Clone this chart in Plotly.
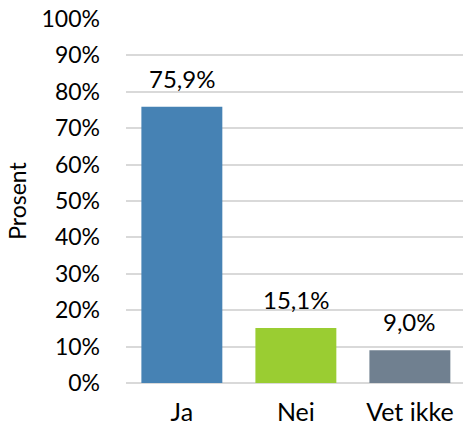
import plotly.graph_objects as go

categories = ["Ja", "Nei", "Vet ikke"]
values = [75.9, 15.1, 9.0]
colors = ["#4682B4", "#9ACD32", "#708090"]
y_ticks = [0, 10, 20, 30, 40, 50, 60, 70, 80, 90, 100]

font_family = "Lato, 'Open Sans', sans-serif"


def fmt(v):
    return f"{v:.1f}".replace(".", ",") + "%"


fig = go.Figure(
    go.Bar(
        x=categories,
        y=values,
        marker=dict(color=colors, line=dict(width=0)),
        width=0.71,
        hoverinfo="skip",
    )
)

for c, v in zip(categories, values):
    fig.add_annotation(
        x=c,
        y=v,
        text=fmt(v),
        showarrow=False,
        yanchor="bottom",
        yshift=12,
        font=dict(size=24, color="#000000", family=font_family),
    )

fig.update_layout(
    width=463,
    height=429,
    margin=dict(l=126, r=0, t=19, b=46),
    paper_bgcolor="white",
    plot_bgcolor="white",
    showlegend=False,
    font=dict(family=font_family, size=23, color="#000000"),
    xaxis=dict(
        range=[-0.49, 2.466],
        showgrid=False,
        showline=False,
        ticks="",
        ticklabelstandoff=12,
        tickfont=dict(size=25),
    ),
    yaxis=dict(
        range=[0, 100],
        tickvals=y_ticks,
        ticktext=[f"{v}%" for v in y_ticks],
        showgrid=True,
        gridcolor="#d9d9d9",
        gridwidth=2,
        zeroline=True,
        zerolinecolor="#d9d9d9",
        zerolinewidth=2,
        showline=False,
        ticks="",
        ticklabelstandoff=25,
        tickfont=dict(size=23),
        title=dict(text="Prosent", font=dict(size=23), standoff=8),
    ),
)

fig.write_html(
    "out.html",
    config={"displayModeBar": False},
    post_script="document.body.style.margin='0';",
)
